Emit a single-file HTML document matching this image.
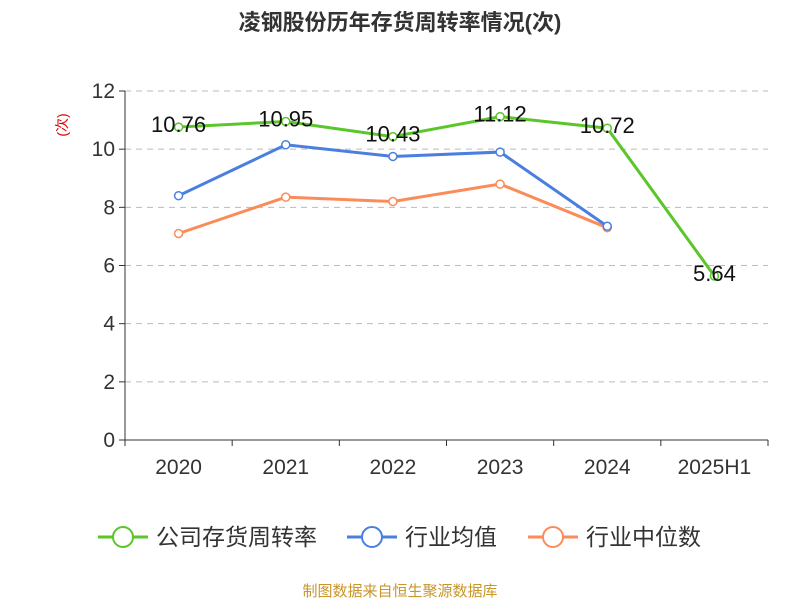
<!DOCTYPE html>
<html><head><meta charset="utf-8"><style>
body{margin:0;background:#fff;font-family:"Liberation Sans","Noto Sans CJK SC",sans-serif}
</style></head><body>
<svg id="c" width="800" height="600" font-family="Liberation Sans, Noto Sans CJK SC, sans-serif"></svg>
<script>
const categories=["2020","2021","2022","2023","2024","2025H1"];
const companyVals=[10.76,10.95,10.43,11.12,10.72,5.64];
const avgVals=[8.4,10.15,9.75,9.9,7.35];
const medVals=[7.1,8.35,8.2,8.8,7.3];
const yTicks=[0,2,4,6,8,10,12];
const svg=document.getElementById('c');
const NS='http://www.w3.org/2000/svg';
const x0=125,x1=768,y0=440,y1=91,yMax=12;
const bw=(x1-x0)/categories.length;
const X=i=>x0+bw*(i+0.5);
const Y=v=>y0-(v/yMax)*(y0-y1);
function el(t,a,txt){const e=document.createElementNS(NS,t);for(const k in a)e.setAttribute(k,a[k]);if(txt!=null)e.textContent=txt;svg.appendChild(e);return e;}
let t=el('text',{x:400,y:30,'text-anchor':'middle','font-size':22,'font-weight':'bold',fill:'#333'},'凌钢股份历年存货周转率情况(次)');

t=el('text',{x:0,y:0,transform:'translate(67,125) rotate(-90)','text-anchor':'middle','font-size':14,fill:'#d00'},'(次)');

yTicks.forEach(v=>{
 if(v>0){const g=el('line',{x1:x0,x2:x1,y1:Y(v),y2:Y(v),stroke:'#bbb','stroke-dasharray':'6,5'});}
 el('line',{x1:x0-6,x2:x0,y1:Y(v),y2:Y(v),stroke:'#333'});
 const l=el('text',{x:x0-10,y:Y(v)+7,'text-anchor':'end','font-size':21,fill:'#333'},v);
 
});
el('line',{x1:x0,x2:x0,y1:y1,y2:y0,stroke:'#333'});
el('line',{x1:x0,x2:x1,y1:y0,y2:y0,stroke:'#333'});
for(let i=0;i<=categories.length;i++)el('line',{x1:x0+bw*i,x2:x0+bw*i,y1:y0,y2:y0+6,stroke:'#333'});
categories.forEach((c,i)=>{const l=el('text',{x:X(i),y:474,'text-anchor':'middle','font-size':21,fill:'#333'},c);});
function series(vals,color,name,labels){
 const p=el('polyline',{points:vals.map((v,i)=>X(i)+','+Y(v)).join(' '),fill:'none',stroke:color,'stroke-width':3});
 
 vals.forEach((v,i)=>{const c=el('circle',{cx:X(i),cy:Y(v),r:4,fill:'#fff',stroke:color,'stroke-width':1.5});});
 if(labels)vals.forEach((v,i)=>{const l=el('text',{x:X(i),y:Y(v)+5,'text-anchor':'middle','font-size':22,fill:'#111'},v.toFixed(2));});
}
series(medVals,'#fb8c5a','industry-median');
series(avgVals,'#4a7fe0','industry-average');
series(companyVals,'#5bc62a','company',true);
const leg=[['公司存货周转率','#5bc62a',98],['行业均值','#4a7fe0',347],['行业中位数','#fb8c5a',528]];
leg.forEach(([n,c,x])=>{
 el('line',{x1:x,x2:x+50,y1:537,y2:537,stroke:c,'stroke-width':3});
 const ci=el('circle',{cx:x+25,cy:537,r:10,fill:'#fff',stroke:c,'stroke-width':2});
 const l=el('text',{x:x+58,y:545,'font-size':23,fill:'#333'},n);
});
t=el('text',{x:400,y:596,'text-anchor':'middle','font-size':15,fill:'#c8962a'},'制图数据来自恒生聚源数据库');

</script>
</body></html>
